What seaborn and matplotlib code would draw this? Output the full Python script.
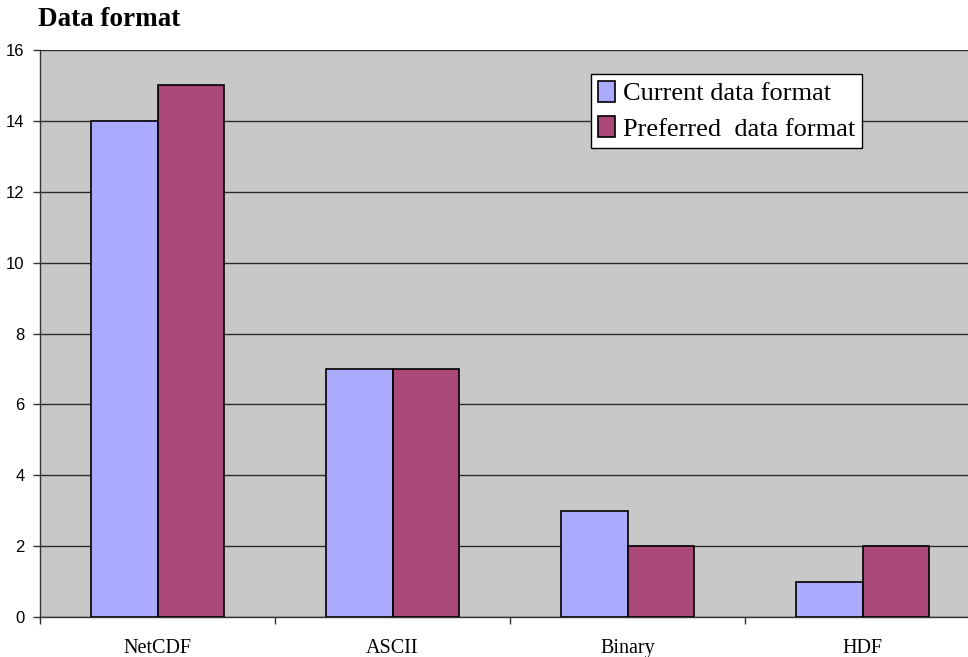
import matplotlib
matplotlib.use("Agg")
import matplotlib.pyplot as plt
import seaborn as sns
import pandas as pd
from matplotlib.ticker import FixedLocator

categories = ["NetCDF", "ASCII", "Binary", "HDF"]
current_format = [14, 7, 3, 1]
preferred_format = [15, 7, 2, 2]
series_names = ["Current data format", "Preferred  data format"]
y_ticks = [0, 2, 4, 6, 8, 10, 12, 14, 16]

df = pd.DataFrame({
    "format": categories * 2,
    "count": current_format + preferred_format,
    "series": [series_names[0]] * len(categories) + [series_names[1]] * len(categories),
})

sns.set_theme(style="white")
plt.rcParams["font.family"] = ["Liberation Sans", "DejaVu Sans"]
plt.rcParams["text.color"] = "black"
plt.rcParams["xtick.color"] = "black"
plt.rcParams["ytick.color"] = "black"

fig = plt.figure(figsize=(9.68, 6.57), dpi=100)
# the plot area runs past the right edge of the figure
ax = fig.add_axes([40 / 968, 40 / 657, 940 / 968, 567 / 657])
ax.set_facecolor("#c8c8c8")

sns.barplot(
    data=df, x="format", y="count", hue="series", order=categories,
    hue_order=series_names, palette=["#aaaaff", "#aa4877"],
    width=0.57, gap=0, edgecolor="black", linewidth=1.2,
    saturation=1, errorbar=None, ax=ax, zorder=3,
)

ax.set_xlim(-0.5, 3.5)
ax.set_ylim(0, 16)
ax.set_yticks(y_ticks)
ax.set_yticklabels([str(t) for t in y_ticks], fontsize=12, family=["Liberation Sans"])
ax.yaxis.grid(True, color="#2a2a2a", linewidth=1)
ax.set_axisbelow(True)

# category labels centered, tick marks on category boundaries
ax.set_xticks(range(len(categories)))
ax.set_xticklabels(categories, fontsize=14.5, family=["Liberation Serif"])
ax.tick_params(axis="x", which="major", bottom=True, length=0, pad=16)
ax.xaxis.set_minor_locator(FixedLocator([-0.5, 0.5, 1.5, 2.5]))
ax.tick_params(axis="x", which="minor", bottom=True, length=5, width=1,
               color="#333333", direction="out")
ax.tick_params(axis="y", left=True, length=5, width=1, color="#333333",
               direction="out", pad=6)

for side in ["top", "right"]:
    ax.spines[side].set_visible(False)
for side in ["left", "bottom"]:
    ax.spines[side].set_color("#333333")
    ax.spines[side].set_linewidth(1)

ax.set_xlabel("")
ax.set_ylabel("")

leg = ax.legend(
    loc="upper left", bbox_to_anchor=((591 - 40) / 940, (617 - 74) / 567),
    frameon=True, fancybox=False, framealpha=1, edgecolor="black",
    prop={"family": "Liberation Serif", "size": 19},
    handlelength=0.65, handleheight=0.85, handletextpad=0.3,
    borderpad=0.25, labelspacing=0.42, borderaxespad=0,
)
leg.get_frame().set_linewidth(1)

fig.text(38 / 968, 1 - 19 / 657, "Data format", fontsize=19.5, fontweight="bold",
         family=["Liberation Serif"], va="center", ha="left")

fig.savefig("out.png", dpi=100, facecolor="white")
